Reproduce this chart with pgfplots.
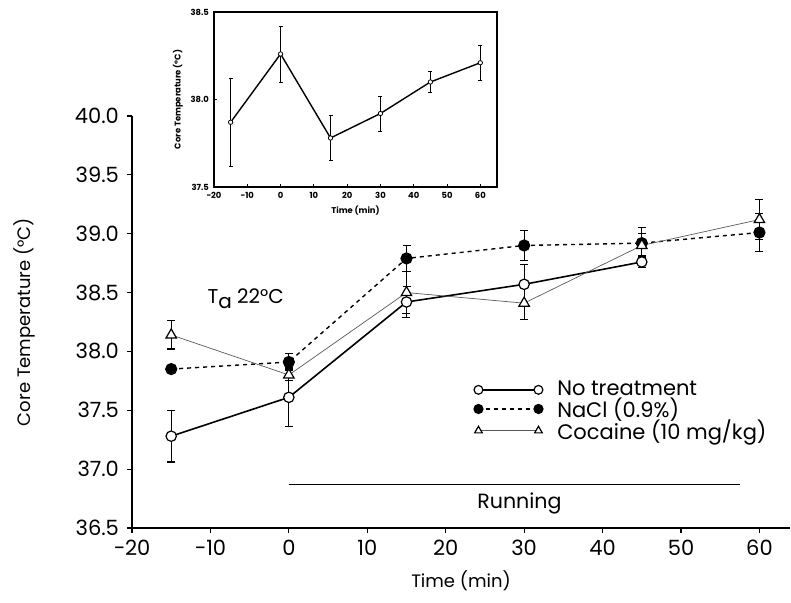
\documentclass[border=0pt]{standalone}
\usepackage{fontspec}
\setmainfont{Poppins}
\usepackage{pgfplots}
\pgfplotsset{compat=1.18}

\pgfplotsset{
  eb/.style={error bars/y dir=both, error bars/y explicit,
    error bars/error mark options={rotate=90, mark size=2pt, line width=0.6pt, black},
    error bars/error bar style={line width=0.6pt, black, solid}},
  onedec/.style={/pgf/number format/fixed, /pgf/number format/fixed zerofill,
    /pgf/number format/precision=1},
}

\begin{document}
\begin{tikzpicture}[x=1pt,y=1pt]
% main panel
\begin{axis}[
  at={(0,0)}, anchor=south west,
  scale only axis, width=329pt, height=206pt,
  xmin=-20, xmax=63.9, ymin=36.5, ymax=40,
  axis lines*=left, axis line style={line width=0.8pt},
  xtick={-20,-10,...,60}, xticklabels={−20,−10,0,10,20,30,40,50,60},
  ytick={36.5,37,...,40},
  yticklabel style={onedec, xshift=-0.5pt},
  ticklabel style={font=\fontsize{10.5}{12}\selectfont, /pgf/number format/assume math mode=true},
  tick align=outside, major tick length=2.5pt, tick style={black, line width=0.6pt},
  xlabel={Time (min)}, ylabel={Core Temperature (°C)},
  label style={font=\fontsize{9}{10}\selectfont},
  xlabel style={at={(axis description cs:0.5,-0.127)}, anchor=center},
  ylabel style={at={(axis description cs:-0.163,0.5)}, anchor=center},
  clip=false,
  legend style={at={(axis cs:22.8,37.82)}, anchor=north west, draw=none, fill=none,
    font=\fontsize{10.5}{12}\selectfont, row sep=-4.5pt},
  legend cell align=left,
  legend image code/.code={\draw[mark repeat=2, mark phase=1, #1, mark size=2.2pt]
    plot coordinates {(0pt,0pt) (15pt,0pt) (30pt,0pt)};
    \path (37pt,0pt);},
]
\addplot[black, line width=0.8pt, mark=*, mark size=2.6pt,
  mark options={solid, fill=white, line width=0.6pt}, eb] coordinates {
  (-15,37.28) +- (0,0.22)
  (0,37.61)   +- (0,0.25)
  (15,38.42)  +- (0,0.13)
  (30,38.57)  +- (0,0.17)
  (45,38.76)  +- (0,0.05)
};
\addlegendentry{No treatment}

\addplot[black, line width=0.7pt, dash pattern=on 2pt off 2pt, mark=*, mark size=2.7pt,
  mark options={solid, fill=black}, eb] coordinates {
  (-15,37.85) +- (0,0.03)
  (0,37.91)   +- (0,0.07)
  (15,38.79)  +- (0,0.11)
  (30,38.90)  +- (0,0.13)
  (45,38.92)  +- (0,0.13)
  (60,39.01)  +- (0,0.16)
};
\addlegendentry{NaCl (0.9\%)}

\addplot[black!65, line width=0.35pt, mark=triangle*, mark size=3pt,
  mark options={solid, fill=white, draw=black, line width=0.6pt}, eb] coordinates {
  (-15,38.14) +- (0,0.12)
  (0,37.80)   +- (0,0.05)
  (15,38.50)  +- (0,0.18)
  (30,38.41)  +- (0,0.14)
  (45,38.90)  +- (0,0.10)
  (60,39.12)  +- (0,0.17)
};
\addlegendentry{Cocaine (10 mg/kg)}

% running period
\addplot[forget plot, black, line width=0.5pt, no markers] coordinates {(0,36.87) (57.5,36.87)};
\node[font=\fontsize{10.3}{12}\selectfont] at (axis cs:29.4,36.71) {Running};
\node[font=\fontsize{10}{12}\selectfont] at (axis cs:-5.5,38.45) {T\raisebox{-0.45ex}{a} 22°C};
\end{axis}

% inset
\begin{axis}[
  at={(41pt,170.5pt)}, anchor=south west,
  scale only axis, width=141.5pt, height=87.5pt,
  xmin=-20, xmax=65, ymin=37.5, ymax=38.5,
  xtick={-20,-10,...,60}, xticklabels={−20,−10,0,10,20,30,40,50,60},
  ytick={37.5,38,38.5},
  yticklabel style={onedec, xshift=1pt},
  xticklabel style={yshift=1pt},
  ticklabel style={font=\fontsize{4.2}{5}\bfseries, /pgf/number format/assume math mode=true},
  tick align=inside, major tick length=1.5pt, tick style={black, line width=0.4pt},
  axis line style={line width=0.6pt},
  xtick pos=bottom, ytick pos=left,
  xlabel={Time (min)}, ylabel={Core Temperature (°C)},
  label style={font=\fontsize{4.2}{5}\bfseries},
  xlabel style={yshift=3pt}, ylabel style={yshift=-3pt},
]
\addplot[black, line width=0.7pt, mark=*, mark size=1.1pt,
  mark options={fill=white, line width=0.4pt},
  error bars/y dir=both, error bars/y explicit,
  error bars/error mark options={rotate=90, mark size=1pt, line width=0.4pt},
  error bars/error bar style={line width=0.4pt}] coordinates {
  (-15,37.87) +- (0,0.25)
  (0,38.26)   +- (0,0.16)
  (15,37.78)  +- (0,0.13)
  (30,37.92)  +- (0,0.10)
  (45,38.10)  +- (0,0.06)
  (60,38.21)  +- (0,0.10)
};
\end{axis}
\pgfresetboundingbox
\path (-66pt,-37.5pt) rectangle (329.5pt,264pt);
\end{tikzpicture}
\end{document}
